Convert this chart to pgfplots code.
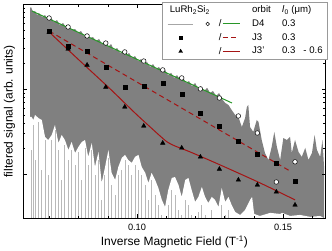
\documentclass[border=0pt]{standalone}
\usepackage{pgfplots}
\pgfplotsset{compat=1.18}
\usepackage{fontspec}
\setmainfont{Liberation Sans}
\definecolor{sig}{RGB}{128,128,128}
\definecolor{sigl}{RGB}{185,185,185}
\definecolor{grn}{RGB}{40,150,40}
\definecolor{dred}{RGB}{165,20,20}
\begin{document}
\begin{tikzpicture}
\begin{axis}[name=ax, scale only axis, width=302.7pt, height=214pt,
 xmin=0.06096, xmax=0.1646, ymin=0.0303, ymax=10, ymode=log, log origin y=infty,
 axis on top,
 xtick={0.10,0.15}, xticklabels={0.10,0.15},
 minor xtick={0.07,0.08,0.09,0.11,0.12,0.13,0.14,0.16},
 ytick={0.1,1,10}, yticklabels={},
 tick style={black, line width=0.6pt},
 major tick length=4pt, minor tick length=2.5pt,
 axis line style={line width=0.8pt},
 /pgf/number format/assume math mode=true,
 ticklabel style={font=\fontsize{9.2}{10}\selectfont},
 xticklabel style={yshift=-2pt},
 xlabel={Inverse Magnetic Field (T\textsuperscript{-1})},
 ylabel={filtered signal (arb. units)},
 label style={font=\fontsize{12}{14}\selectfont},
 xlabel style={at={(axis description cs:0.5,-0.1107)}, anchor=center},
 ylabel style={at={(axis description cs:-0.0446,0.5)}, anchor=center},
 legend columns=2, legend cell align=left,
 legend style={at={(1.004,1.012)}, anchor=north east, draw=gray!80, fill=white,
   font=\fontsize{9.6}{11}\selectfont, inner xsep=2pt, inner ysep=2pt, row sep=1.5pt,
   /tikz/column 1/.style={column sep=10pt},
   /tikz/column 2/.style={column sep=0pt},
   /tikz/column 3/.style={column sep=0pt}},
]
% signal: dark gray band
\addplot[fill=sig, draw=none, forget plot] coordinates {
(0.0634,0.02)(0.0634,9.05)(0.0637,9.29)(0.0644,8.11)(0.0651,8.34)(0.0658,7.48)(0.0664,7.91)
(0.0675,7.09)(0.0685,7.48)(0.0695,6.53)(0.0706,6.90)(0.0716,6.19)(0.0726,6.53)(0.0736,5.70)
(0.0747,6.03)(0.0757,5.26)(0.0767,5.56)(0.0777,4.99)(0.0788,5.12)(0.0798,4.60)(0.0808,4.85)
(0.0819,4.24)(0.0829,4.47)(0.0839,4.01)(0.0849,4.12)(0.0860,3.70)(0.0870,3.91)(0.0880,3.41)
(0.0890,3.60)(0.0901,3.14)(0.0911,3.41)(0.0921,2.90)(0.0932,3.06)(0.0942,2.67)(0.0952,2.82)
(0.0962,2.53)(0.0973,2.67)(0.0983,2.33)(0.0993,2.46)(0.1004,2.15)(0.1014,2.27)(0.1024,1.98)
(0.1034,2.10)(0.1045,1.83)(0.1055,1.98)(0.1065,1.73)(0.1075,1.83)(0.1086,1.60)(0.1096,1.69)
(0.1106,1.47)(0.1117,1.56)(0.1127,1.36)(0.1137,1.47)(0.1147,1.29)(0.1158,1.36)(0.1168,1.19)
(0.1178,1.25)(0.1188,1.09)(0.1199,1.19)(0.1209,1.01)(0.1219,1.09)(0.1230,0.955)(0.1240,1.04)
(0.1250,0.905)(0.1260,0.955)(0.1271,0.834)(0.1281,0.905)(0.1291,0.769)(0.1302,0.690)
(0.1313,0.654)(0.1324,0.571)(0.1336,0.499)(0.1347,0.472)(0.1359,0.360)(0.1370,0.459)
(0.1376,0.619)(0.1381,0.654)(0.1387,0.360)(0.1398,0.315)(0.1410,0.435)(0.1416,0.412)
(0.1427,0.253)(0.1438,0.178)(0.1450,0.147)(0.1461,0.209)(0.1470,0.315)(0.1479,0.209)
(0.1490,0.147)(0.1501,0.267)(0.1513,0.253)(0.1524,0.275)(0.1530,0.178)(0.1541,0.253)
(0.1553,0.183)(0.1564,0.160)(0.1576,0.204)(0.1587,0.147)(0.1599,0.178)(0.1608,0.290)
(0.1616,0.193)(0.1627,0.160)(0.1635,0.253)(0.1641,0.112)(0.1641,0.02)};
% signal: white lower excursions
\addplot[fill=white, draw=none, forget plot] coordinates {
(0.0634,0.02)(0.0634,0.472)(0.0639,0.472)(0.0645,0.435)(0.0651,0.499)(0.0662,0.459)(0.0674,0.435)
(0.0685,0.275)(0.0696,0.253)(0.0708,0.290)(0.0719,0.380)(0.0731,0.233)(0.0742,0.290)
(0.0753,0.253)(0.0765,0.193)(0.0776,0.240)(0.0788,0.178)(0.0799,0.209)(0.0811,0.240)
(0.0822,0.253)(0.0833,0.160)(0.0845,0.233)(0.0856,0.122)(0.0868,0.183)(0.0879,0.0791)
(0.0890,0.119)(0.0902,0.193)(0.0913,0.104)(0.0925,0.0857)(0.0936,0.122)(0.0948,0.156)
(0.0959,0.169)(0.0970,0.147)(0.0982,0.136)(0.0993,0.160)(0.1005,0.169)(0.1016,0.122)
(0.1028,0.104)(0.1039,0.0791)(0.1050,0.104)(0.1062,0.0857)(0.1073,0.0690)(0.1085,0.0499)
(0.1096,0.0412)(0.1107,0.0654)(0.1119,0.0904)(0.1130,0.0929)(0.1142,0.0748)(0.1153,0.0541)
(0.1165,0.0857)(0.1176,0.0904)(0.1187,0.0654)(0.1199,0.0472)(0.1210,0.0541)(0.1222,0.0709)
(0.1233,0.0541)(0.1244,0.0459)(0.1256,0.0541)(0.1267,0.0499)(0.1279,0.0412)(0.1290,0.0690)
(0.1302,0.0472)(0.1313,0.0541)(0.1324,0.0435)(0.1336,0.0360)(0.1353,0.0332)(0.1370,0.0380)
(0.1387,0.0499)(0.1394,0.0541)(0.1401,0.0341)(0.1421,0.0323)(0.1456,0.0351)(0.1490,0.0341)
(0.1497,0.0351)(0.1524,0.0323)(0.1558,0.0332)(0.1593,0.0315)(0.1627,0.0323)(0.1641,0.0303)
(0.1641,0.02)};
% signal: light gray traces inside the gaps
\addplot[ycomb, sigl, line width=0.9pt, forget plot] coordinates {
(0.0639,0.193)(0.0645,0.380)(0.0651,0.147)(0.0662,0.412)(0.0674,0.112)
(0.0685,0.253)(0.0696,0.0981)(0.0708,0.253)(0.0719,0.332)(0.0731,0.193)(0.0742,0.0857)
(0.0753,0.221)(0.0765,0.147)(0.0776,0.193)(0.0788,0.129)(0.0799,0.183)(0.0811,0.0857)
(0.0822,0.204)(0.0833,0.129)(0.0845,0.193)(0.0856,0.0981)(0.0868,0.147)(0.0879,0.0499)
(0.0890,0.0981)(0.0902,0.156)(0.0913,0.0748)(0.0925,0.0571)(0.0936,0.0981)(0.0948,0.112)
(0.0959,0.147)(0.0970,0.129)(0.0982,0.0981)(0.0993,0.129)(0.1005,0.112)(0.1016,0.0981)
(0.1028,0.0748)(0.1039,0.0499)(0.1050,0.0857)(0.1062,0.0571)(0.1073,0.0435)(0.1085,0.0332)
(0.1107,0.0435)(0.1119,0.0654)(0.1130,0.0571)(0.1142,0.0380)(0.1153,0.0332)
(0.1165,0.0499)(0.1176,0.0435)(0.1187,0.0332)(0.1210,0.0360)(0.1222,0.0435)
(0.1233,0.0332)(0.1256,0.0380)(0.1290,0.0435)(0.1302,0.0332)(0.1313,0.0380)};
% fits
\addplot[grn, line width=1pt, forget plot] coordinates {(0.0640,8.34)(0.1325,0.690)};
\addplot[dred, line width=1pt, dash pattern=on 5pt off 3.5pt, forget plot] coordinates {(0.0699,4.85)(0.1524,0.109)};
\addplot[dred, line width=1pt, smooth, forget plot] coordinates {
(0.0699,4.72)(0.0805,2.15)(0.0908,1.01)(0.0993,0.526)(0.1045,0.360)(0.1079,0.282)
(0.1103,0.240)(0.1130,0.215)(0.1182,0.183)(0.1284,0.129)(0.1421,0.0791)(0.1541,0.0499)};
% amplitudes
\addplot[only marks, mark=*, mark size=2.3pt, mark options={fill=white, draw=black, line width=0.5pt}, forget plot] coordinates {
(0.0699,6.90)(0.0764,5.41)(0.0829,4.24)(0.0893,3.50)(0.0958,2.75)(0.1023,2.15)(0.1088,1.69)
(0.1153,1.36)(0.1217,1.01)(0.1282,0.790)(0.1347,0.485)(0.1412,0.306)(0.1477,0.0811)(0.1541,0.140)};
\addplot[only marks, mark=square*, mark size=2pt, black, forget plot] coordinates {
(0.0699,4.85)(0.0764,3.23)(0.0829,2.82)(0.0893,1.83)(0.0958,1.06)(0.1023,1.09)(0.1088,1.19)
(0.1153,0.881)(0.1217,0.526)(0.1282,0.370)(0.1347,0.246)(0.1412,0.173)(0.1477,0.136)(0.1541,0.0834)};
\addplot[only marks, mark=triangle*, mark size=2.6pt, black, forget plot] coordinates {
(0.0699,4.72)(0.0764,2.98)(0.0829,1.93)(0.0893,1.06)(0.0958,0.619)(0.1023,0.370)(0.1088,0.233)
(0.1153,0.204)(0.1217,0.160)(0.1282,0.115)(0.1347,0.0857)(0.1412,0.0748)(0.1477,0.0619)(0.1541,0.0435)};
% legend
\addlegendimage{legend image code/.code={\path[draw=none,fill=none] (-3pt,-3pt) rectangle (72pt,3pt);
  \node[anchor=west, inner sep=0pt, draw=none, fill=none, text=black] at (2pt,0pt) {LuRh\textsubscript{2}Si\textsubscript{2}};}}
\addlegendentry{\makebox[26pt][l]{orbit}}
\addlegendimage{empty legend}
\addlegendentry{\textit{l}\textsubscript{0} (μm)}
\addlegendimage{legend image code/.code={\path[draw=none,fill=none] (-3pt,-3pt) rectangle (72pt,3pt);
  \draw[sig!70, line width=0.6pt] (0pt,0pt)--(25pt,0pt);
  \draw[black, fill=white, line width=0.5pt] (40pt,0pt) circle (1.8pt);
  \node[inner sep=0pt, draw=none, fill=none, text=black] at (51pt,0pt) {/};
  \draw[grn, line width=1pt] (55pt,0pt)--(72pt,0pt);}}
\addlegendentry{D4}
\addlegendimage{empty legend}
\addlegendentry{0.3}
\addlegendimage{legend image code/.code={\path[draw=none,fill=none] (-3pt,-3pt) rectangle (72pt,3pt);
  \draw[black, mark size=1.8pt] plot[mark=square*] coordinates {(13pt,0pt)};
  \node[inner sep=0pt, draw=none, fill=none, text=black] at (51pt,0pt) {/};
  \draw[dred, line width=1pt, dash pattern=on 5pt off 3.5pt] (55pt,0pt)--(72pt,0pt);}}
\addlegendentry{J3}
\addlegendimage{empty legend}
\addlegendentry{0.3}
\addlegendimage{legend image code/.code={\path[draw=none,fill=none] (-3pt,-3pt) rectangle (72pt,3pt);
  \draw[black, mark size=2.2pt] plot[mark=triangle*] coordinates {(13pt,0pt)};
  \node[inner sep=0pt, draw=none, fill=none, text=black] at (51pt,0pt) {/};
  \draw[dred, line width=1pt] (55pt,0pt)--(72pt,0pt);}}
\addlegendentry{J3'}
\addlegendimage{empty legend}
\addlegendentry{0.3\ \ \ - 0.6}
\end{axis}
\pgfresetboundingbox
\path ([shift={(-23pt,-31.7pt)}]ax.south west) rectangle ([shift={(6.3pt,4.3pt)}]ax.north east);
\end{tikzpicture}
\end{document}
